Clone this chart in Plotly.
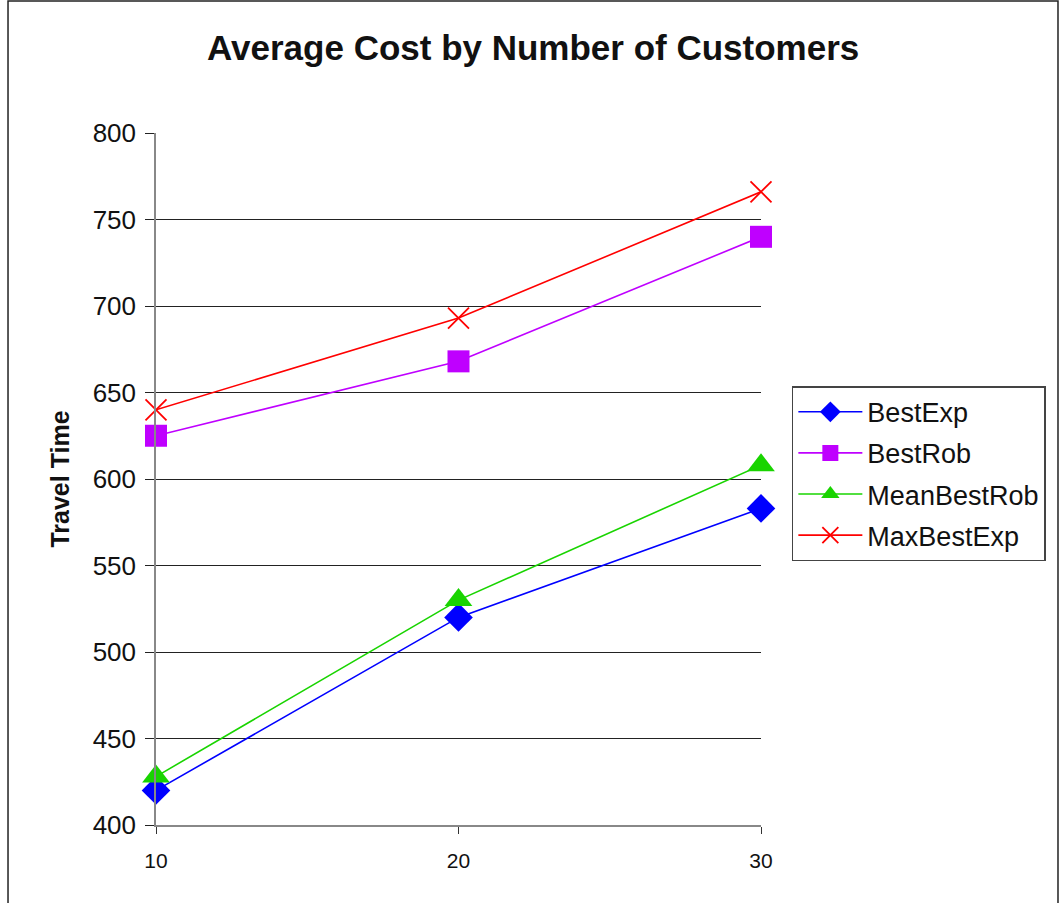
import plotly.graph_objects as go

# Number of customers per instance set
customers = [10, 20, 30]

# Average travel time for each method
best_exp = [420, 520, 583]
best_rob = [625, 668, 740]
mean_best_rob = [428, 530, 608]
max_best_exp = [640, 693, 766]

y_ticks = [400, 450, 500, 550, 600, 650, 700, 750, 800]

series = [
    ("BestExp", best_exp, "#0000FF", dict(symbol="diamond", size=22)),
    ("BestRob", best_rob, "#BF00FF", dict(symbol="square", size=22)),
    ("MeanBestRob", mean_best_rob, "#19D400", dict(symbol="triangle-up", size=24)),
    ("MaxBestExp", max_best_exp, "#FF0000", dict(symbol="x-thin", size=21)),
]

fig = go.Figure()
for name, values, color, marker in series:
    mk = dict(color=color, **marker)
    if marker["symbol"] == "x-thin":
        mk["line"] = dict(color=color, width=1.8)
    fig.add_trace(go.Scatter(
        x=customers, y=values, name=name, mode="lines+markers",
        line=dict(color=color, width=1.6), marker=mk,
        legendgroup=name, cliponaxis=False,
    ))

fig.update_layout(
    width=1060, height=903,
    margin=dict(l=156, r=299, t=133, b=78),
    paper_bgcolor="white", plot_bgcolor="white",
    font=dict(family="Liberation Sans, Arial, sans-serif", color="#111111"),
    title=dict(
        text="<b>Average Cost by Number of Customers</b>",
        x=0.503, xanchor="center", y=0.947, yanchor="middle",
        font=dict(size=35, color="#111111"),
    ),
    xaxis=dict(
        range=[10, 30], tickvals=customers, ticktext=[str(c) for c in customers],
        showgrid=False, zeroline=False, showline=True,
        linecolor="#888888", linewidth=2,
        ticks="outside", ticklen=7, tickcolor="#333333",
        tickfont=dict(size=21), ticklabelstandoff=9,
    ),
    yaxis=dict(
        range=[400, 800], tickvals=y_ticks,
        showgrid=True, gridcolor="#222222", gridwidth=1,
        zeroline=False, showline=True, linecolor="#888888", linewidth=1.5,
        ticks="outside", ticklen=9, tickcolor="#222222",
        tickfont=dict(size=26), ticklabelstandoff=4,
        title=dict(text="<b>Travel Time</b>", font=dict(size=25), standoff=16),
    ),
    legend=dict(
        x=1.051, xanchor="left", y=0.634, yanchor="top",
        bordercolor="#444444", borderwidth=1.5, bgcolor="white",
        font=dict(size=27), tracegroupgap=3, itemwidth=64,
    ),
    showlegend=True,
)

# Outer chart frame
fig.add_shape(type="rect", xref="paper", yref="paper",
              x0=-0.2446, x1=1.4909, y0=-0.2, y1=1.1908,
              line=dict(color="#222222", width=1.5), layer="below")

fig.write_html("out.html")
